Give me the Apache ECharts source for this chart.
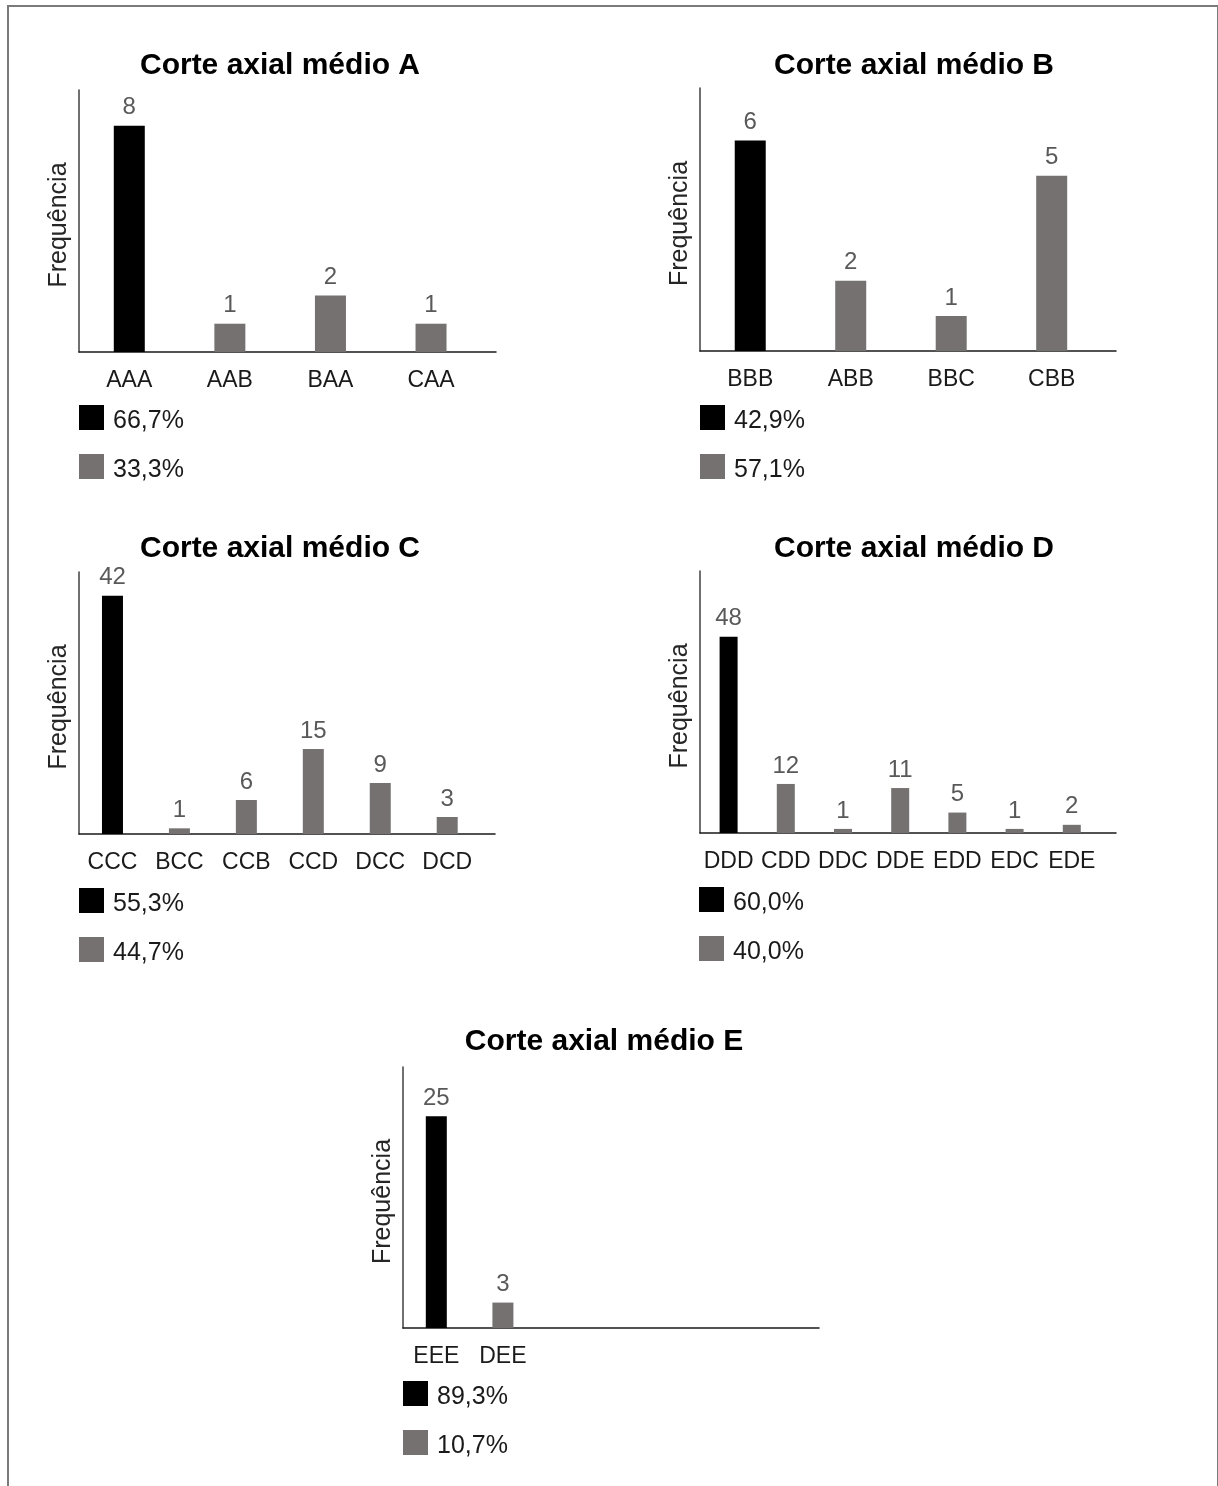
<!DOCTYPE html>
<html>
<head>
<meta charset="utf-8">
<script src="https://cdn.jsdelivr.net/npm/echarts@6/dist/echarts.min.js"></script>
<style>
  html, body { margin: 0; padding: 0; background: #ffffff; }
  #frame { position: absolute; left: 7px; top: 5px; width: 1208px; height: 1490px;
           border-left: 2px solid #7a7a7a; border-top: 2px solid #7a7a7a; border-right: 2px solid #7a7a7a; }
  #chart { position: absolute; left: 0; top: 0; width: 1218px; height: 1486px; }
</style>
</head>
<body>
<div id="frame"></div>
<div id="chart"></div>
<script>
// ---------------- data ----------------
const titles = ['Corte axial médio A', 'Corte axial médio B', 'Corte axial médio C', 'Corte axial médio D', 'Corte axial médio E'];
const yAxisName = 'Frequência';

const catsA = ['AAA', 'AAB', 'BAA', 'CAA'];
const valsA = [8, 1, 2, 1];
const legendA = ['66,7%', '33,3%'];

const catsB = ['BBB', 'ABB', 'BBC', 'CBB'];
const valsB = [6, 2, 1, 5];
const legendB = ['42,9%', '57,1%'];

const catsC = ['CCC', 'BCC', 'CCB', 'CCD', 'DCC', 'DCD'];
const valsC = [42, 1, 6, 15, 9, 3];
const legendC = ['55,3%', '44,7%'];

const catsD = ['DDD', 'CDD', 'DDC', 'DDE', 'EDD', 'EDC', 'EDE'];
const valsD = [48, 12, 1, 11, 5, 1, 2];
const legendD = ['60,0%', '40,0%'];

const catsE = ['EEE', 'DEE'];
const valsE = [25, 3];
const legendE = ['89,3%', '10,7%'];

// ---------------- layout / style ----------------
const FONT = '"Liberation Sans", Arial, sans-serif';
const BLACK = '#000000';
const GRAY = '#767171';

const panels = [
  { cats: catsA, vals: valsA, leg: legendA, grid: { left: 79, top: 90, width: 417, height: 262 }, yMax: 9.26, xMax: 3.646, barW: 31, tx: 280, ty: 51, lx: 79, ly: 405 },
  { cats: catsB, vals: valsB, leg: legendB, grid: { left: 700, top: 88, width: 416, height: 263 }, yMax: 7.5, xMax: 3.64, barW: 31, tx: 914, ty: 51, lx: 700, ly: 405 },
  { cats: catsC, vals: valsC, leg: legendC, grid: { left: 79, top: 572, width: 416, height: 262 }, yMax: 46.2, xMax: 5.714, barW: 21, tx: 280, ty: 534, lx: 79, ly: 888 },
  { cats: catsD, vals: valsD, leg: legendD, grid: { left: 700, top: 571, width: 416, height: 262 }, yMax: 64.1, xMax: 6.773, barW: 18, tx: 914, ty: 534, lx: 699, ly: 887 },
  { cats: catsE, vals: valsE, leg: legendE, grid: { left: 403, top: 1067, width: 416, height: 261 }, yMax: 30.8, xMax: 5.746, barW: 21, tx: 604, ty: 1027, lx: 403, ly: 1381 }
];

const option = {
  backgroundColor: 'transparent',
  animation: false,
  title: [], grid: [], xAxis: [], yAxis: [], legend: [], series: []
};

panels.forEach((p, i) => {
  option.title.push({
    text: titles[i], left: p.tx, top: p.ty, textAlign: 'center', padding: 0,
    textStyle: { fontFamily: FONT, fontSize: 30, fontWeight: 'bold', color: '#000' }
  });
  option.grid.push(Object.assign({ containLabel: false }, p.grid));
  const cats = p.cats;
  option.xAxis.push({
    type: 'value', gridIndex: i, min: -0.5, max: p.xMax,
    axisLine: { show: true, onZero: false, lineStyle: { color: '#1a1a1a', width: 1.5 } },
    axisTick: { show: false },
    splitLine: { show: false },
    axisLabel: {
      show: true, customValues: cats.map((c, k) => k), margin: 17,
      fontFamily: FONT, fontSize: 23, color: '#1a1a1a',
      showMinLabel: true, showMaxLabel: true,
      formatter: function (v) {
        const k = Math.round(v);
        return (Math.abs(v - k) < 1e-6 && k >= 0 && k < cats.length) ? cats[k] : '';
      }
    }
  });
  option.yAxis.push({
    type: 'value', gridIndex: i, min: 0, max: p.yMax,
    name: yAxisName, nameLocation: 'middle', nameGap: 7,
    nameTextStyle: { fontFamily: FONT, fontSize: 25, color: '#262626', padding: [0, 8, 0, 0] },
    axisLine: { show: true, onZero: false, lineStyle: { color: '#404040', width: 1.5 } },
    axisTick: { show: false }, axisLabel: { show: false }, splitLine: { show: false }
  });
  option.legend.push({
    data: p.leg, orient: 'vertical', left: p.lx, top: p.ly, padding: 0,
    itemWidth: 25, itemHeight: 25, itemGap: 20, icon: 'rect', selectedMode: false,
    formatter: '{t|{name}}',
    textStyle: {
      fontFamily: FONT, fontSize: 25, color: '#1a1a1a',
      rich: { t: { fontFamily: FONT, fontSize: 25, color: '#1a1a1a', padding: [8, 0, 0, 4] } }
    }
  });
  const label = {
    show: true, position: 'top', distance: 6,
    fontFamily: FONT, fontSize: 24, color: '#595959',
    formatter: (d) => String(d.value[1])
  };
  option.series.push({
    type: 'bar', name: p.leg[0], xAxisIndex: i, yAxisIndex: i,
    barWidth: p.barW, barGap: '-100%',
    itemStyle: { color: BLACK }, label: label,
    data: [[0, p.vals[0]]]
  });
  option.series.push({
    type: 'bar', name: p.leg[1], xAxisIndex: i, yAxisIndex: i,
    barWidth: p.barW, barGap: '-100%',
    itemStyle: { color: GRAY }, label: label,
    data: p.vals.slice(1).map((v, k) => [k + 1, v])
  });
});

const chart = echarts.init(document.getElementById('chart'), null, { renderer: 'canvas' });
chart.setOption(option);
</script>
</body>
</html>
